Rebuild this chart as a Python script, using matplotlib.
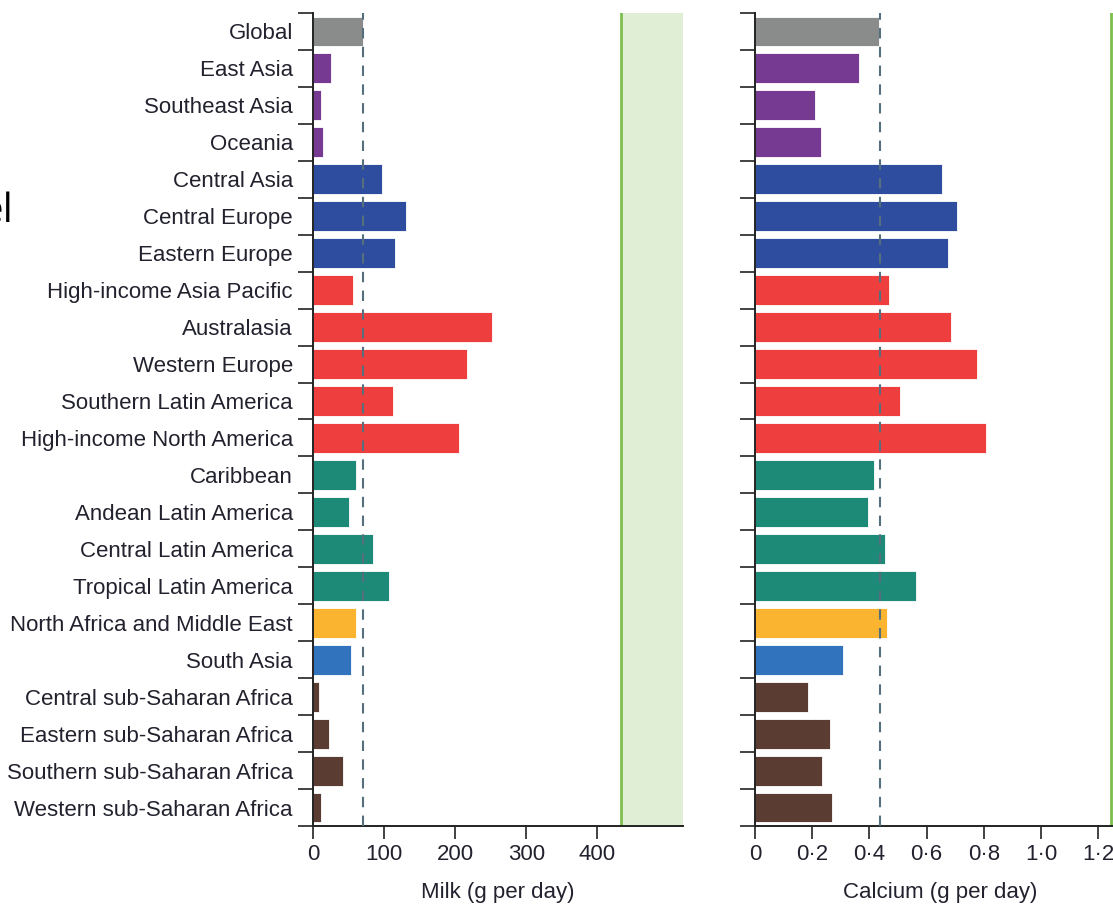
import matplotlib
matplotlib.use("Agg")
import matplotlib.pyplot as plt
import numpy as np

regions = ["Global", "East Asia", "Southeast Asia", "Oceania", "Central Asia",
           "Central Europe", "Eastern Europe", "High-income Asia Pacific",
           "Australasia", "Western Europe", "Southern Latin America",
           "High-income North America", "Caribbean", "Andean Latin America",
           "Central Latin America", "Tropical Latin America",
           "North Africa and Middle East", "South Asia",
           "Central sub-Saharan Africa", "Eastern sub-Saharan Africa",
           "Southern sub-Saharan Africa", "Western sub-Saharan Africa"]
milk = [70, 26, 11, 13.6, 97, 131, 115.4, 56.7, 251.4, 217.1, 112.6, 205,
        60, 51, 84.9, 106.5, 60, 54, 8, 23, 42, 11]
calcium = [0.435, 0.363, 0.21, 0.232, 0.654, 0.706, 0.676, 0.470, 0.684, 0.775,
           0.508, 0.807, 0.416, 0.394, 0.453, 0.562, 0.462, 0.309, 0.186, 0.263,
           0.233, 0.270]
groups = ["global", "asia", "asia", "asia", "ceeca", "ceeca", "ceeca",
          "hi", "hi", "hi", "hi", "hi", "latam", "latam", "latam", "latam",
          "name", "sa", "ssa", "ssa", "ssa", "ssa"]
group_colors = {"global": "#8a8c8c", "asia": "#773a92", "ceeca": "#2f4d9e",
                "hi": "#ef3e3e", "latam": "#1d8977", "name": "#fbb42f",
                "sa": "#3174bd", "ssa": "#5b3c33"}
milk_ticks = [0, 100, 200, 300, 400]
calcium_ticks = [0, 0.2, 0.4, 0.6, 0.8, 1.0, 1.2]
calcium_ticklabels = ["0", "0·2", "0·4", "0·6", "0·8", "1·0", "1·2"]
milk_global_ref = 70.8
calcium_global_ref = 0.436
milk_optimal = 433
calcium_optimal = 1.245

W, H = 1113, 905
fig = plt.figure(figsize=(W / 100, H / 100), dpi=100)
txt_color = "#22222e"
font = ["Liberation Sans", "DejaVu Sans"]
fs = 16

def px_axes(x0, x1, ytop, ybot):
    return fig.add_axes([x0 / W, (H - ybot) / H, (x1 - x0) / W, (ybot - ytop) / H])

ax1 = px_axes(313, 683, 13, 826)
ax2 = px_axes(755, 1113, 13, 826)

n = len(regions)
ypos = np.arange(n)
colors = [group_colors[g] for g in groups]

for ax, vals, xmax, ref, opt, opt_end in [
        (ax1, milk, 520.5, milk_global_ref, milk_optimal, 520.5),
        (ax2, calcium, 1.252, calcium_global_ref, calcium_optimal, 1.4)]:
    ax.barh(ypos, vals, height=0.81, color=colors, edgecolor="white",
            linewidth=0.6, zorder=2)
    ax.axvspan(opt, opt_end, color="#e1eed6", lw=0, zorder=0)
    ax.axvline(opt, color="#7cbf4f", lw=2, zorder=1)
    ax.axvline(ref, color="#55707c", lw=1.5, ls=(0, (5, 4)), zorder=3)
    ax.set_xlim(0, xmax)
    ax.set_ylim(n - 0.5, -0.5)
    for s in ["top", "right"]:
        ax.spines[s].set_visible(False)
    for s in ["left", "bottom"]:
        ax.spines[s].set_linewidth(1.4)
        ax.spines[s].set_color("#222222")
    ax.set_yticks(ypos)
    ax.tick_params(axis="y", which="major", length=0, pad=14.4)
    ax.set_yticks(np.arange(n + 1) - 0.5, minor=True)
    ax.tick_params(axis="y", which="minor", length=11, width=1.2, color="#222222")
    ax.tick_params(axis="x", length=9, width=1.2, color="#222222", pad=4)

ax1.set_yticklabels(regions, fontsize=fs, color=txt_color, family=font)
ax2.set_yticklabels([])
ax1.set_xticks(milk_ticks)
ax1.set_xticklabels([str(t) for t in milk_ticks], fontsize=fs, color=txt_color, family=font)
ax2.set_xticks(calcium_ticks)
ax2.set_xticklabels(calcium_ticklabels, fontsize=fs, color=txt_color, family=font)

ax1.set_xlabel("Milk (g per day)", fontsize=fs, color=txt_color, family=font)
ax2.set_xlabel("Calcium (g per day)", fontsize=fs, color=txt_color, family=font)
ax2.xaxis.set_label_coords((940 - 755) / (1113 - 755), -0.069)
ax1.xaxis.set_label_coords(0.5, -0.069)

fig.text(14 / W, 1 - 212 / H, "el", ha="right", va="center", fontsize=29,
         family="Open Sans", color="black")

fig.savefig("out.png", dpi=100)
